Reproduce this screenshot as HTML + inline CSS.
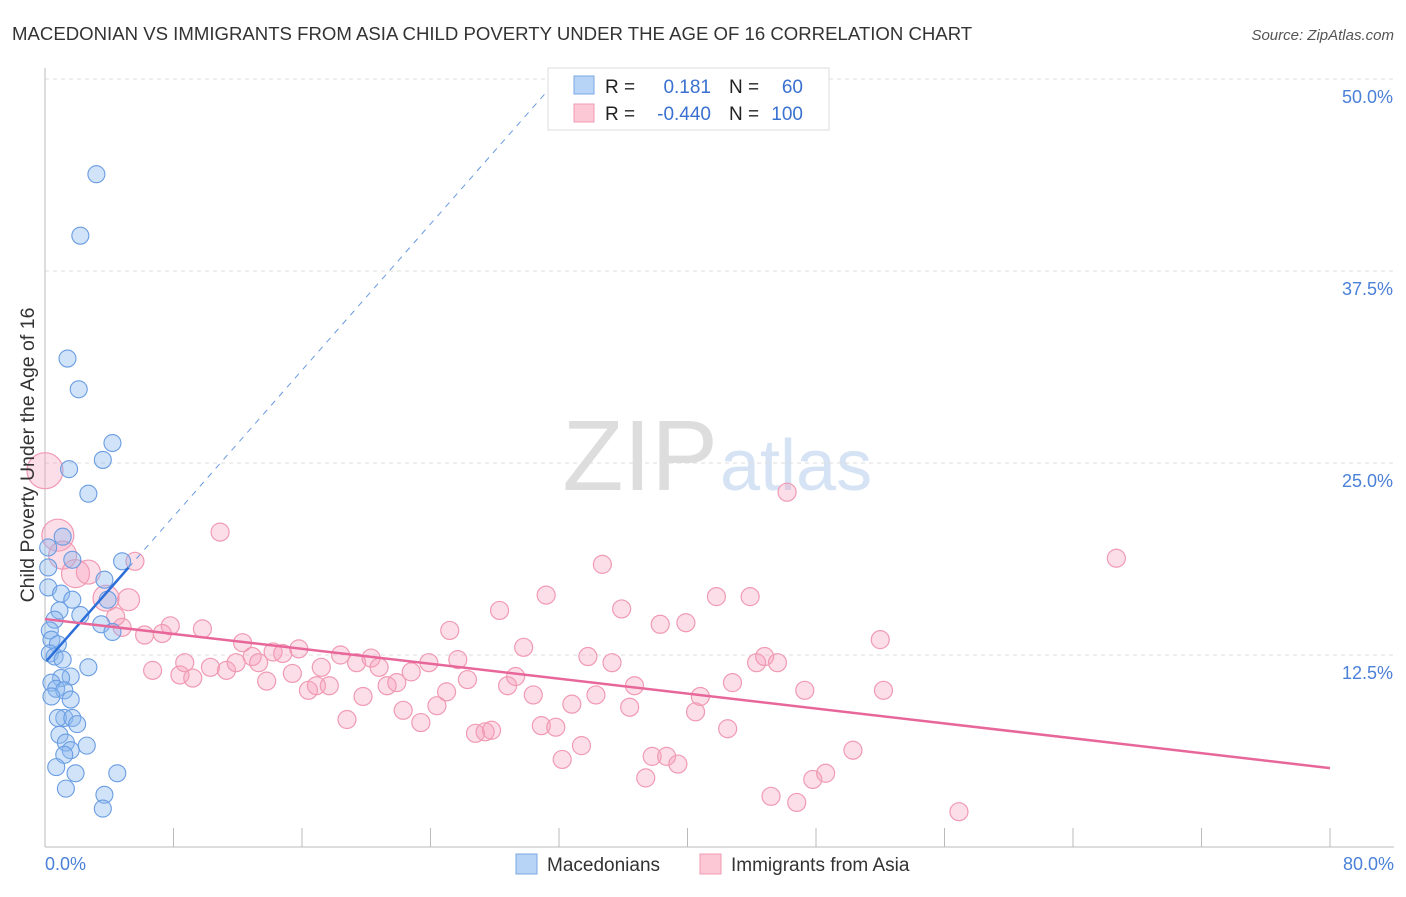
<!DOCTYPE html>
<html><head><meta charset="utf-8"><style>
body{margin:0;background:#fff;font-family:"Liberation Sans",sans-serif;}
svg text{font-family:"Liberation Sans",sans-serif;}
</style></head><body>
<svg id="chart" width="1406" height="892">
<text x="12" y="40" font-size="18.6" fill="#333">MACEDONIAN VS IMMIGRANTS FROM ASIA CHILD POVERTY UNDER THE AGE OF 16 CORRELATION CHART</text>
<text x="1394" y="40" font-size="15" fill="#555" font-style="italic" text-anchor="end">Source: ZipAtlas.com</text>
<text x="718" y="490" font-size="100" fill="#ddd" text-anchor="end" font-family="Liberation Serif">ZIP</text>
<text x="720" y="490" font-size="72" fill="#d5e3f5">atlas</text>
<g id="grid"></g><g id="axes"></g><g id="pts"></g><g id="lines"></g>
<text transform="translate(34,455) rotate(-90)" font-size="19.5" fill="#333" text-anchor="middle">Child Poverty Under the Age of 16</text>
<g>
<rect x="548" y="68" width="281" height="62" fill="#fff" stroke="#ddd"/>
<rect x="574" y="76" width="20" height="18" fill="#b7d3f5" stroke="#7aa8e6"/>
<rect x="574" y="104" width="20" height="18" fill="#fcc8d6" stroke="#f09ab3"/>
<text x="605" y="93" font-size="19" fill="#222">R =</text><text x="711" y="93" font-size="19" fill="#3a70d0" text-anchor="end">0.181</text>
<text x="729" y="93" font-size="19" fill="#222">N =</text><text x="803" y="93" font-size="19" fill="#3a70d0" text-anchor="end">60</text>
<text x="605" y="120" font-size="19" fill="#222">R =</text><text x="711" y="120" font-size="19" fill="#3a70d0" text-anchor="end">-0.440</text>
<text x="729" y="120" font-size="19" fill="#222">N =</text><text x="803" y="120" font-size="19" fill="#3a70d0" text-anchor="end">100</text>
</g>
<g>
<rect x="516" y="854" width="21" height="20" fill="#b7d3f5" stroke="#7aa8e6"/>
<text x="547" y="871" font-size="19" fill="#333">Macedonians</text>
<rect x="700" y="854" width="21" height="20" fill="#fcc8d6" stroke="#f09ab3"/>
<text x="731" y="871" font-size="19" fill="#333">Immigrants from Asia</text>
</g>
</svg>
<script>
const yTicks=[12.5,25.0,37.5,50.0];
const xTickLabels=["0.0%","80.0%"];
const blueX=[3.2,2.2,1.4,2.1,4.2,3.6,1.5,2.7,1.1,1.7,4.8,0.2,0.2,3.7,0.2,1.0,1.7,3.9,0.9,2.2,0.6,0.3,3.5,4.2,0.4,0.8,0.3,0.6,1.1,2.7,1.6,1.0,0.4,0.7,1.2,0.4,1.6,1.2,0.8,1.7,2.0,0.9,1.3,1.6,2.6,1.2,0.7,1.9,4.5,1.3,3.7,3.6];
const blueY=[43.8,39.8,31.8,29.8,26.3,25.2,24.6,23.0,20.2,18.7,18.6,19.5,18.2,17.4,16.9,16.5,16.1,16.1,15.4,15.1,14.8,14.1,14.5,14.0,13.5,13.2,12.6,12.4,12.2,11.7,11.1,11.0,10.7,10.3,10.2,9.8,9.6,8.4,8.4,8.4,8.0,7.3,6.8,6.3,6.6,6.0,5.2,4.8,4.8,3.8,3.4,2.5];
const pinkX=[0,0.8,1.1,1.9,2.7,3.8,5.2,10.9,5.6,4.8,4.4,6.2,7.8,7.3,9.8,6.7,8.4,8.7,9.2,10.3,11.3,11.9,12.3,12.9,13.3,13.8,14.2,14.8,15.4,15.8,16.4,16.9,17.7,17.2,18.4,18.8,19.4,19.8,20.3,20.8,21.3,21.9,22.3,22.8,23.4,23.9,24.4,25.0,25.2,25.7,26.3,26.8,27.4,27.8,28.3,28.8,29.3,29.8,30.4,30.9,31.2,31.8,32.2,32.8,33.4,33.8,34.3,34.7,35.3,35.9,36.4,36.7,37.4,37.8,38.3,38.7,39.4,39.9,40.5,40.8,41.8,42.5,42.8,43.9,44.3,44.8,45.2,45.6,46.2,46.8,47.3,47.8,48.6,50.3,52.0,52.2,56.9,66.7];
const pinkY=[24.5,20.3,19.0,17.8,17.9,16.2,16.1,20.5,18.6,14.3,15.0,13.8,14.4,13.9,14.2,11.5,11.2,12.0,11.0,11.7,11.5,12.0,13.3,12.4,12.0,10.8,12.7,12.6,11.3,12.9,10.2,10.5,10.5,11.7,12.5,8.3,12.0,9.8,12.3,11.7,10.5,10.7,8.9,11.4,8.1,12.0,9.2,10.1,14.1,12.2,10.9,7.4,7.5,7.6,15.4,10.5,11.1,13.0,9.9,7.9,16.4,7.8,5.7,9.3,6.6,12.4,9.9,18.4,12.0,15.5,9.1,10.5,4.5,5.9,14.5,5.9,5.4,14.6,8.8,9.8,16.3,7.7,10.7,16.3,12.0,12.4,3.3,12.0,23.1,2.9,10.2,4.4,4.8,6.3,13.5,10.2,2.3,18.8];
const pinkR=[18,16,14,14,12,13,11];
const blueFit=[12.0,1.19]; const pinkFit=[14.84,-0.1213];
const NS="http://www.w3.org/2000/svg";
const X=v=>45+v/80*1285, Y=v=>847-v/12.5*192;
function mk(t,a,p){const e=document.createElementNS(NS,t);for(const k in a)e.setAttribute(k,a[k]);p.appendChild(e);return e;}
const grid=document.getElementById('grid'),axes=document.getElementById('axes'),pts=document.getElementById('pts'),lines=document.getElementById('lines');
yTicks.forEach(t=>{const l=mk('line',{x1:45,x2:1394,y1:Y(t),y2:Y(t),stroke:'#ddd','stroke-dasharray':'4,4'},grid);


const tx=mk('text',{x:1393,y:Y(t)+24,'font-size':18,fill:'#4a80d8','text-anchor':'end'},grid);tx.textContent=t.toFixed(1)+'%';

});
const ax=mk('line',{x1:45,x2:45,y1:68,y2:847,stroke:'#bbb'},axes);


const bx=mk('line',{x1:45,x2:1394,y1:847,y2:847,stroke:'#bbb'},axes);


for(let i=0;i<=10;i++){const t=mk('line',{x1:X(i*8),x2:X(i*8),y1:828,y2:847,stroke:'#bbb'},axes);

}
[[0,'start',45],[80,'end',1394]].forEach((d,i)=>{const t=mk('text',{x:d[2],y:870,'font-size':18,fill:'#4a80d8','text-anchor':d[1]},axes);t.textContent=xTickLabels[i];

});
pinkX.forEach((x,i)=>{const c=mk('circle',{cx:X(x),cy:Y(pinkY[i]),r:pinkR[i]||9,fill:'rgba(246,160,188,0.35)',stroke:'#f09ab3','stroke-width':1.2},pts);

});
blueX.forEach((x,i)=>{const c=mk('circle',{cx:X(x),cy:Y(blueY[i]),r:8.5,fill:'rgba(140,185,240,0.4)',stroke:'#6a9de2','stroke-width':1.1},pts);

});
const bl=mk('line',{x1:X(0.1),y1:Y(blueFit[0]+blueFit[1]*0.1),x2:X(5.2),y2:Y(blueFit[0]+blueFit[1]*5.2),stroke:'#2c6fd8','stroke-width':2.5},lines);


const xe=(50-blueFit[0])/blueFit[1];
const bd=mk('line',{x1:X(5.2),y1:Y(blueFit[0]+blueFit[1]*5.2),x2:X(xe),y2:Y(50),stroke:'#6a9ae0','stroke-width':1,'stroke-dasharray':'6,6'},lines);


const pl=mk('line',{x1:X(0),y1:Y(pinkFit[0]),x2:X(80),y2:Y(pinkFit[0]+pinkFit[1]*80),stroke:'#e8679a','stroke-width':2.5},lines);


</script>
</body></html>
